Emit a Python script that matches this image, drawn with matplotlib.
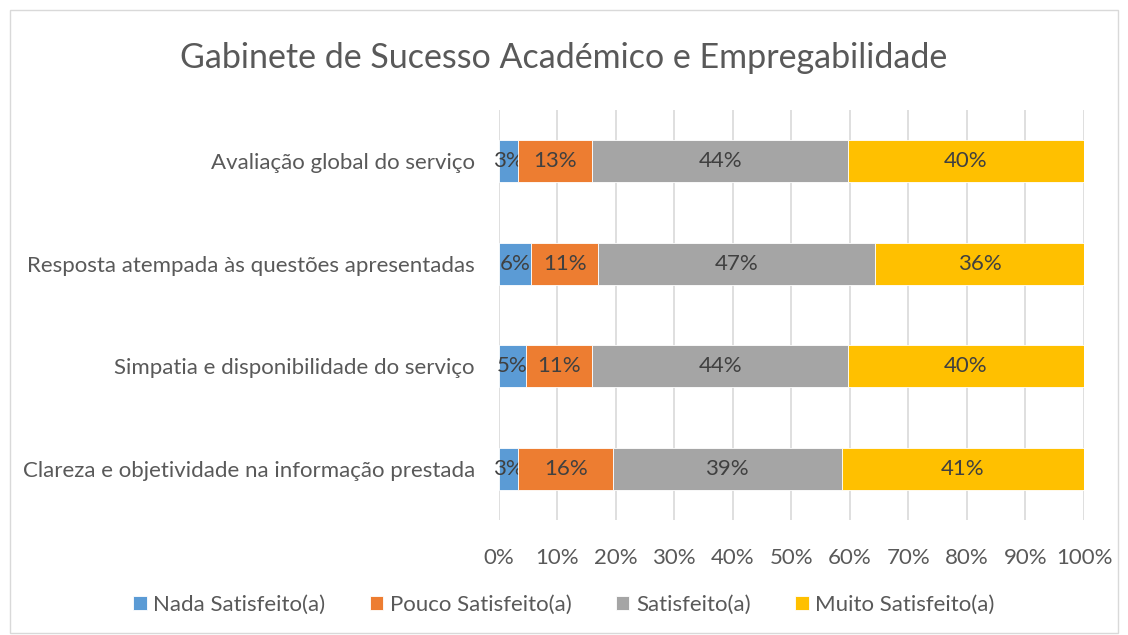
#!/usr/bin/env python3

# import modules
from matplotlib import pyplot as plt
from matplotlib.patches import Rectangle
import numpy as np

plt.rcParams['font.family'] = ['Lato', 'DejaVu Sans']

# data (percentages, bottom to top)
categories = ['Clareza e objetividade na informação prestada',
              'Simpatia e disponibilidade do serviço',
              'Resposta atempada às questões apresentadas',
              'Avaliação global do serviço']
series_names = ['Nada Satisfeito(a)', 'Pouco Satisfeito(a)', 'Satisfeito(a)', 'Muito Satisfeito(a)']
nada = [3.4, 4.6, 5.6, 3.4]
pouco = [16.1, 11.4, 11.4, 12.6]
satisfeito = [39.1, 43.7, 47.3, 43.7]
muito = [41.4, 40.3, 35.7, 40.3]
colors = ['#5B9BD5', '#ED7D31', '#A5A5A5', '#FFC000']
text_color = '#595959'

fig = plt.figure(figsize=(11.28, 6.35), dpi=100)
ax = fig.add_axes([0.442, 0.181, 0.519, 0.646])

# chart border
fig.patches.append(Rectangle((0.009, 0.003), 0.982, 0.982, transform=fig.transFigure,
                             fill=False, edgecolor='#d9d9d9', linewidth=1))

y = np.arange(len(categories))
left = np.zeros(len(categories))
for name, vals, c in zip(series_names, [nada, pouco, satisfeito, muito], colors):
    vals = np.array(vals)
    bars = ax.barh(y, vals, left=left, height=0.41, color=c, label=name,
                   edgecolor='white', linewidth=0.6, zorder=3)
    ax.bar_label(bars, labels=['%.0f%%' % v for v in vals], label_type='center',
                 color='#404040', fontsize=16)
    left += vals

ax.set_xlim(0, 100)
ax.set_ylim(-0.5, len(categories) - 0.5)
ax.set_xticks(np.arange(0, 101, 10))
ax.set_xticklabels(['%d%%' % t for t in range(0, 101, 10)])
ax.set_yticks(y)
ax.set_yticklabels(categories)
ax.tick_params(axis='both', length=0, labelsize=16, colors=text_color)
ax.tick_params(axis='x', pad=20)
ax.tick_params(axis='y', pad=17)
ax.grid(axis='x', color='#d9d9d9', linewidth=1.2, zorder=0)
for s in ax.spines.values():
    s.set_visible(False)

fig.text(0.5, 0.908, 'Gabinete de Sucesso Académico e Empregabilidade',
         ha='center', va='center', fontsize=24.5, color=text_color)

fig.legend(loc='center', bbox_to_anchor=(0.5, 0.047), ncol=4, frameon=False,
           fontsize=16, labelcolor=text_color, handlelength=0.6, handleheight=0.6,
           handletextpad=0.3, columnspacing=2.0)

# write to disk
fig.savefig('out.png', dpi=100)
